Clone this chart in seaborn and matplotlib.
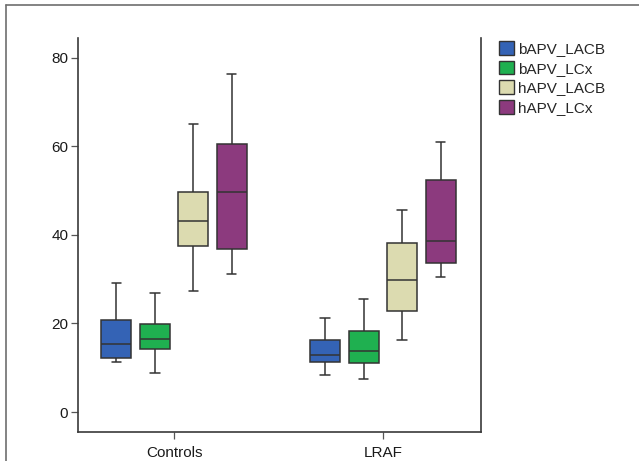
import matplotlib
matplotlib.use("Agg")
import matplotlib.pyplot as plt
from matplotlib.lines import Line2D
from matplotlib.patches import Patch
import pandas as pd
import seaborn as sns

# ---- data (five-number summaries: min, Q1, median, Q3, max) ----
groups = ["Controls", "LRAF"]
series = ["bAPV_LACB", "bAPV_LCx", "hAPV_LACB", "hAPV_LCx"]

bAPV_LACB = {"Controls": [11.2, 12.3, 15.3, 20.7, 29.2],
             "LRAF":     [8.4, 11.4, 12.9, 16.3, 21.2]}
bAPV_LCx = {"Controls": [8.9, 14.2, 16.5, 19.9, 26.8],
            "LRAF":     [7.4, 11.0, 13.8, 18.2, 25.6]}
hAPV_LACB = {"Controls": [27.3, 37.5, 43.0, 49.7, 65.1],
             "LRAF":     [16.3, 22.7, 29.8, 38.1, 45.6]}
hAPV_LCx = {"Controls": [31.1, 36.7, 49.6, 60.5, 76.3],
            "LRAF":     [30.4, 33.7, 38.6, 52.4, 61.0]}

colors = ["#3463b5", "#1fb050", "#dcdbb0", "#8c3a7e"]
yticks = [0, 20, 40, 60, 80]

series_data = dict(zip(series, [bAPV_LACB, bAPV_LCx, hAPV_LACB, hAPV_LCx]))
rows = []
for s in series:
    for g in groups:
        for v in series_data[s][g]:
            rows.append({"group": g, "series": s, "value": v})
df = pd.DataFrame(rows)

# ---- figure ----
sns.set_theme(style="white")
plt.rcParams["font.family"] = ["Liberation Sans", "DejaVu Sans"]

fig = plt.figure(figsize=(6.39, 4.61), dpi=100)
ax = fig.add_axes([78 / 639, 1 - 432 / 461, (481 - 78) / 639, (432 - 38) / 461])

line_c = "#333333"
sns.boxplot(data=df, x="group", y="value", hue="series", order=groups,
            hue_order=series, palette=colors, saturation=1, width=0.737,
            gap=0.22, whis=(0, 100), linewidth=1.1, linecolor=line_c,
            capwidths=0.045, legend=False, ax=ax)

ax.set_xlim(-0.46, 1.47)
ax.set_ylim(-4.5, 84.4)
ax.set_yticks(yticks)
ax.set_xlabel("")
ax.set_ylabel("")

for side in ["left", "bottom", "right"]:
    ax.spines[side].set_visible(True)
    ax.spines[side].set_color("#3a3a3a")
    ax.spines[side].set_linewidth(1.2)
ax.spines["top"].set_visible(False)

ax.tick_params(axis="both", which="major", direction="out", length=5,
               width=0.9, color="#555555", labelsize=11, labelcolor="#1a1a1a",
               pad=2)
ax.tick_params(axis="x", pad=5)
ax.tick_params(left=True, bottom=True)

handles = [Patch(facecolor=c, edgecolor=line_c, linewidth=1.0) for c in colors]
fig.legend(handles, series, loc="upper left",
           bbox_to_anchor=(499 / 639, 1 - 41 / 461), frameon=False,
           fontsize=11, handlelength=1.0, handleheight=1.0,
           handletextpad=0.25, labelspacing=0.3, borderpad=0,
           borderaxespad=0)

# outer gray frame
fig.add_artist(Line2D([6 / 639, 1.0], [1 - 5 / 461, 1 - 5 / 461],
                      transform=fig.transFigure, color="#6e6e6e", lw=1.2))
fig.add_artist(Line2D([6 / 639, 6 / 639], [0, 1 - 5 / 461],
                      transform=fig.transFigure, color="#6e6e6e", lw=1.2))

fig.savefig("out.png", dpi=100)
